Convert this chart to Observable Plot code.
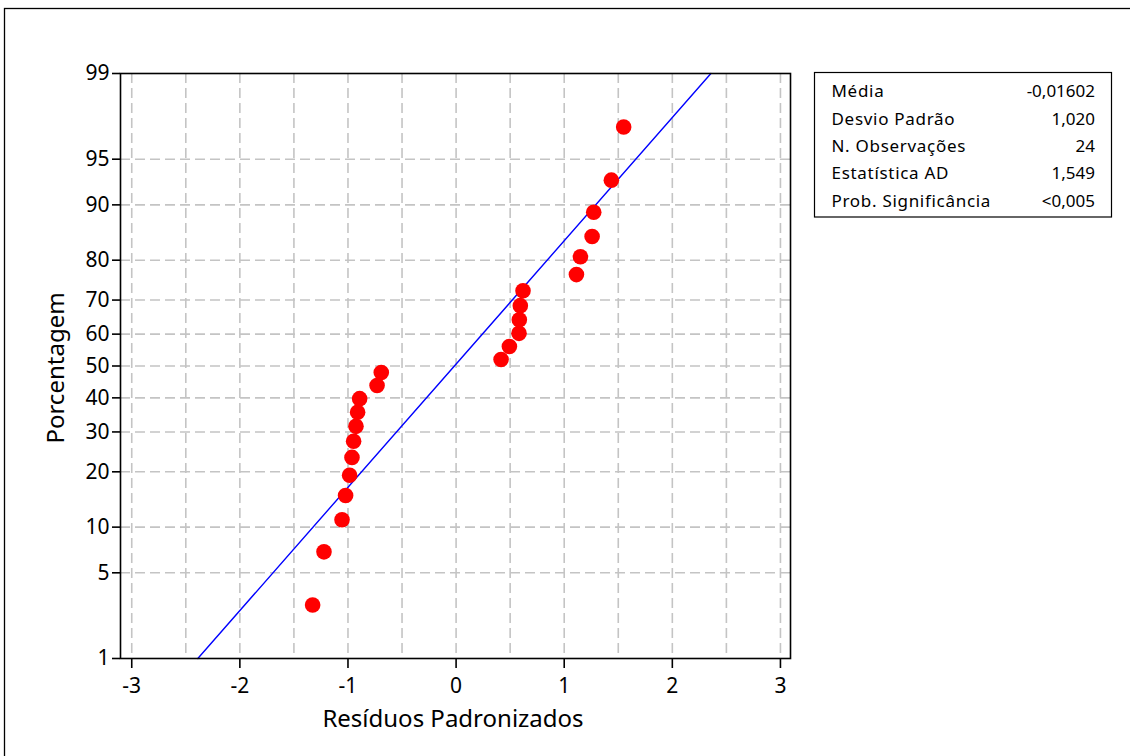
<!DOCTYPE html>
<html>
<head>
<meta charset="utf-8">
<script src="https://cdn.jsdelivr.net/npm/d3@7"></script>
<script src="https://cdn.jsdelivr.net/npm/@observablehq/plot@0.6"></script>
<style>
  html, body { margin: 0; padding: 0; background: white; overflow: hidden; }
</style>
</head>
<body>
<div id="chart"></div>
<script>
// ---- data ----
const residuals = [-1.327, -1.222, -1.055, -1.022, -0.985, -0.963, -0.948, -0.926, -0.911, -0.892, -0.731, -0.692,
                   0.416, 0.493, 0.582, 0.585, 0.594, 0.619, 1.113, 1.150, 1.258, 1.273, 1.436, 1.550];
const percents = [2.87, 6.97, 11.07, 15.16, 19.26, 23.36, 27.46, 31.56, 35.66, 39.75, 43.85, 47.95,
                  52.05, 56.15, 60.25, 64.34, 68.44, 72.54, 76.64, 80.74, 84.84, 88.93, 93.03, 97.13];
const yTicks = [1, 5, 10, 20, 30, 40, 50, 60, 70, 80, 90, 95, 99];
const yGrid = [5, 10, 20, 30, 40, 50, 60, 70, 80, 90, 95];
const xTicks = [-3, -2, -1, 0, 1, 2, 3];
const xGrid = [-3, -2.5, -2, -1.5, -1, -0.5, 0, 0.5, 1, 1.5, 2, 2.5, 3];
const fitPercents = [1, 99];
const mean = -0.01602, sd = 1.020;
const statLabels = ["Média", "Desvio Padrão", "N. Observações", "Estatística AD", "Prob. Significância"];
const statValues = ["-0,01602", "1,020", "24", "1,549", "<0,005"];
const xLabel = "Resíduos Padronizados";
const yLabel = "Porcentagem";

// inverse normal CDF (Acklam)
function probit(p) {
  const a=[-3.969683028665376e+01,2.209460984245205e+02,-2.759285104469687e+02,1.383577518672690e+02,-3.066479806614716e+01,2.506628277459239e+00];
  const b=[-5.447609879822406e+01,1.615858368580409e+02,-1.556989798598866e+02,6.680131188771972e+01,-1.328068155288572e+01];
  const c=[-7.784894002430293e-03,-3.223964580411365e-01,-2.400758276141423e+00,-2.549732539343734e+00,4.374664141464968e+00,2.938163982698783e+00];
  const d=[7.784695709041462e-03,3.224671290700398e-01,2.445134137142996e+00,3.754408661907416e+00];
  const pl = 0.02425, ph = 1 - pl;
  let q, r;
  if (p < pl) { q = Math.sqrt(-2*Math.log(p)); return (((((c[0]*q+c[1])*q+c[2])*q+c[3])*q+c[4])*q+c[5])/((((d[0]*q+d[1])*q+d[2])*q+d[3])*q+1); }
  if (p <= ph) { q = p - 0.5; r = q*q; return (((((a[0]*r+a[1])*r+a[2])*r+a[3])*r+a[4])*r+a[5])*q/(((((b[0]*r+b[1])*r+b[2])*r+b[3])*r+b[4])*r+1); }
  q = Math.sqrt(-2*Math.log(1-p)); return -(((((c[0]*q+c[1])*q+c[2])*q+c[3])*q+c[4])*q+c[5])/((((d[0]*q+d[1])*q+d[2])*q+d[3])*q+1);
}

const points = residuals.map((r, i) => ({x: r, z: probit(percents[i] / 100)}));
const fit = fitPercents.map(p => ({z: probit(p / 100), x: mean + sd * probit(p / 100)}));
const yTickZ = yTicks.map(p => probit(p / 100));

const FONT = "'Noto Sans', 'DejaVu Sans', sans-serif";

const svg = Plot.plot({
  width: 1130,
  height: 756,
  marginLeft: 120,
  marginRight: 340,
  marginTop: 73,
  marginBottom: 98,
  style: {fontFamily: FONT, background: "white", color: "black", overflow: "hidden"},
  x: {domain: [-3.104, 3.093]},
  y: {domain: [probit(0.01), probit(0.99)]},
  marks: [
    Plot.ruleX(xGrid, {stroke: "#c4c4c4", strokeWidth: 1.6, strokeDasharray: "10,5"}),
    Plot.ruleY(yGrid.map(p => probit(p / 100)), {stroke: "#c4c4c4", strokeWidth: 1.6, strokeDasharray: "10,5"}),
    Plot.line(fit, {x: "x", y: "z", stroke: "#0000ff", strokeWidth: 1.4}),
    Plot.dot(points, {x: "x", y: "z", r: 7.8, fill: "#ff0000", stroke: "none"}),
    Plot.frame({stroke: "black", strokeWidth: 1.6}),
    Plot.axisX({ticks: xTicks, tickFormat: () => "", tickSize: 10, label: null, strokeWidth: 1.6}),
    Plot.axisY({ticks: yTickZ, tickFormat: () => "", tickSize: 8, label: null, strokeWidth: 1.6}),
    Plot.text(xTicks, {x: d => d, frameAnchor: "bottom", dy: 20, lineAnchor: "top", text: d => String(d),
                       fontSize: 21, fontFamily: FONT, fill: "black"}),
    Plot.text(yTicks, {y: p => probit(p / 100), frameAnchor: "left", dx: -11, textAnchor: "end", text: p => String(p),
                       fontSize: 21, fontFamily: FONT, fill: "black"})
  ]
});

const s = d3.select(svg);
// outer border
s.append("rect").attr("x", 4.5).attr("y", 8.5).attr("width", 1140).attr("height", 760)
  .attr("fill", "none").attr("stroke", "black").attr("stroke-width", 1.3);
// axis labels
s.append("text").attr("x", 453).attr("y", 727).attr("text-anchor", "middle")
  .attr("font-family", FONT).attr("font-size", 24).attr("fill", "black").text(xLabel);
s.append("text").attr("transform", "translate(64,368) rotate(-90)").attr("text-anchor", "middle")
  .attr("font-family", FONT).attr("font-size", 24).attr("fill", "black").text(yLabel);
// stats box
s.append("rect").attr("x", 814.5).attr("y", 72.5).attr("width", 297).attr("height", 144.5)
  .attr("fill", "white").attr("stroke", "black").attr("stroke-width", 1.2);
statLabels.forEach((lab, i) => {
  const yb = 97.3 + i * 27.3;
  s.append("text").attr("x", 831.5).attr("y", yb).attr("text-anchor", "start").attr("font-family", FONT)
    .attr("font-size", 17).attr("letter-spacing", "0.7px").attr("fill", "black").text(lab);
  s.append("text").attr("x", 1095).attr("y", yb).attr("text-anchor", "end").attr("font-family", FONT)
    .attr("font-size", 17).attr("fill", "black").text(statValues[i]);
});

document.getElementById("chart").appendChild(svg);
</script>
</body>
</html>
